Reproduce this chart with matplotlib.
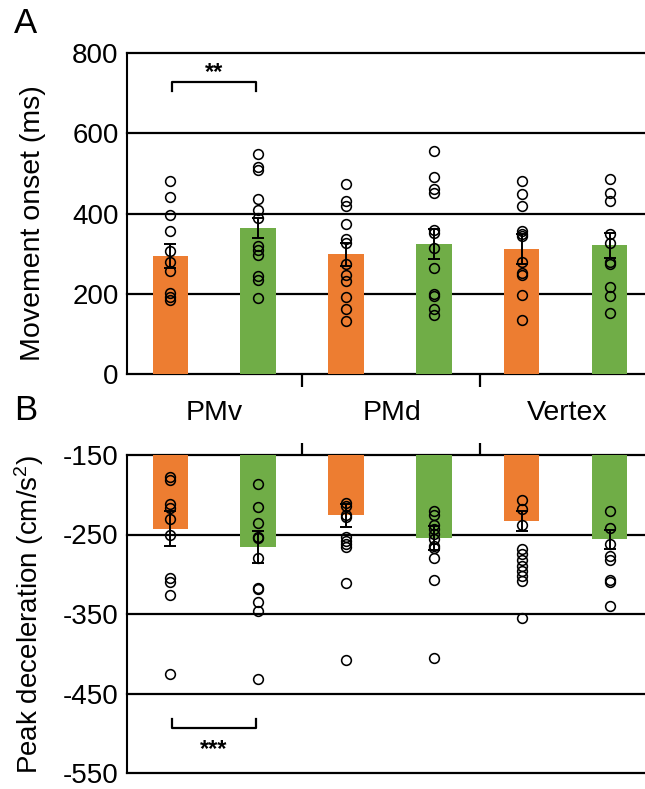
import matplotlib
matplotlib.use("Agg")
import matplotlib.pyplot as plt
import matplotlib.transforms as mtransforms

plt.rcParams['font.family'] = ['Liberation Sans', 'DejaVu Sans']
plt.rcParams['axes.unicode_minus'] = False
plt.rcParams['mathtext.default'] = 'regular'

# ---------------- data ----------------
regions = ["PMv", "PMd", "Vertex"]
bar_colors = ["#ED7D31", "#70AD47", "#ED7D31", "#70AD47", "#ED7D31", "#70AD47"]

onset_mean = [294, 365, 298, 324, 312, 321]
onset_sem = [31, 25, 28, 37, 38, 31]
onset_points = [
    [481, 440, 396, 356, 307, 280, 257, 201, 193, 185],
    [549, 515, 509, 436, 409, 390, 319, 309, 297, 243, 234, 189],
    [474, 430, 419, 373, 336, 326, 274, 247, 232, 193, 161, 131],
    [557, 491, 460, 452, 359, 351, 315, 264, 199, 194, 161, 147],
    [480, 449, 419, 356, 350, 344, 280, 251, 247, 197, 135],
    [486, 451, 432, 350, 327, 278, 274, 218, 194, 153],
]

decel_mean = [-243, -266, -226, -254, -233, -256]
decel_sem = [22, 20, 14, 15, 12, 12]
decel_points = [
    [-178, -181, -212, -217, -230, -250, -305, -310, -326, -426],
    [-187, -215, -236, -253, -255, -280, -317, -319, -335, -346, -432],
    [-211, -214, -225, -228, -253, -258, -262, -266, -311, -408],
    [-220, -225, -238, -243, -249, -256, -264, -267, -280, -307, -405],
    [-207, -218, -238, -268, -275, -282, -289, -296, -302, -308, -355],
    [-221, -242, -262, -277, -282, -307, -310, -340],
]

onset_ticks = [0, 200, 400, 600, 800]
decel_ticks = [-550, -450, -350, -250, -150]

# ---------------- figure ----------------
W, H = 645, 789
fig = plt.figure(figsize=(W / 100, H / 100), dpi=100)

def fx(px):
    return px / W

def fy(py):
    return 1 - py / H

ax1 = fig.add_axes([fx(127), fy(374), 1 - fx(127), fy(53) - fy(374)])
ax2 = fig.add_axes([fx(127), fy(773), 1 - fx(127), fy(455) - fy(773)])

xpos = list(range(6))
separators = [1.5, 3.52]
xlim = (-0.49, 5.4)


def style(ax, ticks, ylim, top_ticks=False):
    ax.set_xlim(*xlim)
    ax.set_ylim(*ylim)
    for s in ["top", "right", "bottom"]:
        ax.spines[s].set_visible(False)
    ax.spines["left"].set_linewidth(1.5)
    for t in ticks:
        ax.axhline(t, color="black", lw=1.6, zorder=1, clip_on=False)
    ax.set_yticks(ticks)
    ax.tick_params(axis="y", direction="in", length=4, width=1.2, pad=6,
                   labelsize=20)
    ax.set_xticks(separators)
    ax.set_xticklabels([])
    if top_ticks:
        ax.xaxis.tick_top()
    ax.tick_params(axis="x", direction="out", length=9, width=1.6)


style(ax1, onset_ticks, (0, 800))
style(ax2, decel_ticks, (-550, -150), top_ticks=True)

# top panel bars
ax1.bar(xpos, onset_mean, width=0.4, color=bar_colors, zorder=2)
ax1.errorbar(xpos, onset_mean, yerr=onset_sem, fmt="none", ecolor="black",
             elinewidth=1.4, capsize=4, capthick=1.4, zorder=4)
for x, pts in zip(xpos, onset_points):
    ax1.plot([x] * len(pts), pts, "o", mfc="none", mec="black", ms=7,
             mew=1.15, zorder=5, clip_on=False)

# bottom panel bars (hang from -150)
base = -150
ax2.bar(xpos, [m - base for m in decel_mean], bottom=base, width=0.4,
        color=bar_colors, zorder=2)
ax2.errorbar(xpos, decel_mean, yerr=decel_sem, fmt="none", ecolor="black",
             elinewidth=1.4, capsize=4, capthick=1.4, zorder=4)
for x, pts in zip(xpos, decel_points):
    ax2.plot([x] * len(pts), pts, "o", mfc="none", mec="black", ms=7,
             mew=1.15, zorder=5, clip_on=False)

# significance brackets
ax1.plot([0.02, 0.02, 0.98, 0.98], [706, 728, 728, 706], color="black",
         lw=1.6, zorder=3)
ax1.text(0.5, 752, "**", ha="center", va="center", fontsize=17,
         fontweight="bold")
ax2.plot([0.02, 0.02, 0.98, 0.98], [-482, -494, -494, -482], color="black",
         lw=1.6, zorder=3)
ax2.text(0.5, -520, "***", ha="center", va="center", fontsize=17,
         fontweight="bold")

# category labels between panels
trans = mtransforms.blended_transform_factory(ax1.transData, ax1.transAxes)
for cx, name in zip([0.5, 2.52, 4.51], regions):
    ax1.text(cx, (374 - 413) / 321, name, transform=trans, ha="center",
             va="center", fontsize=20.5)

# axis labels
ax1.set_ylabel("Movement onset (ms)", fontsize=20.5)
ax2.set_ylabel("Peak deceleration (cm/s$^{2}$)", fontsize=20)
ax1.yaxis.set_label_coords((46 - 127) / (W - 127), 0.47)
ax2.yaxis.set_label_coords((46 - 127) / (W - 127), 0.5)

# panel letters
fig.text(fx(14), fy(33), "A", fontsize=25, ha="left", va="baseline")
fig.text(fx(14), fy(420), "B", fontsize=25, ha="left", va="baseline")

fig.savefig("out.png", dpi=100)
